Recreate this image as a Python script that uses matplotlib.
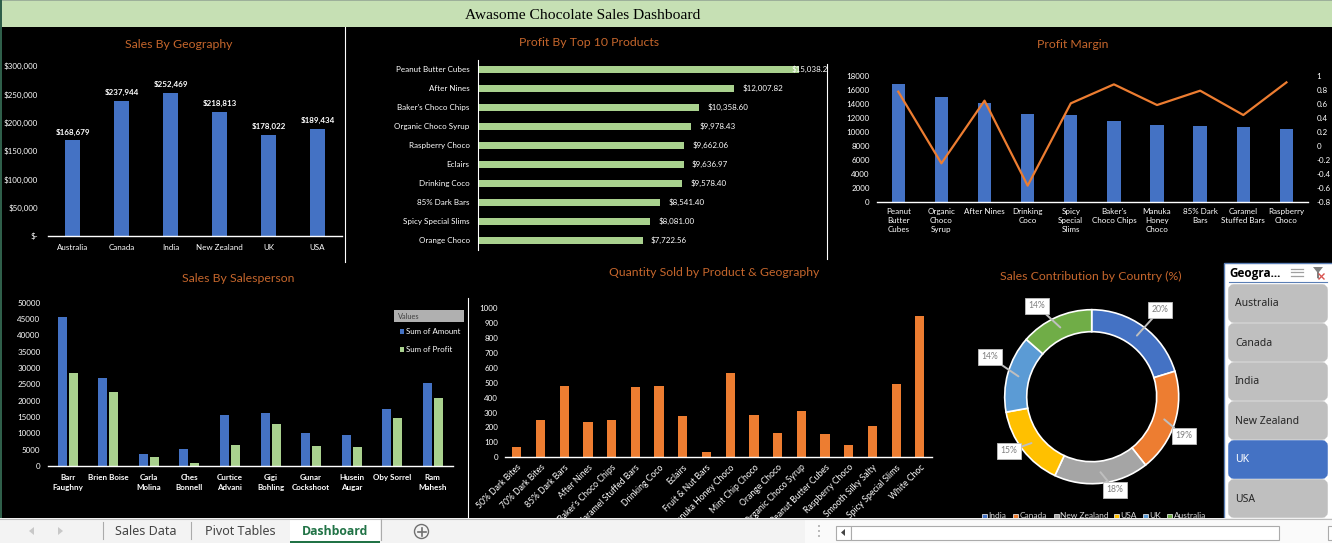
import matplotlib
matplotlib.use("Agg")
import matplotlib.pyplot as plt
from matplotlib.patches import Rectangle, FancyBboxPatch, Circle, Polygon
import numpy as np

W, H = 1332, 543

# sales by geography
countries = ["Australia", "Canada", "India", "New Zealand", "UK", "USA"]
country_sales = [168679, 237944, 252469, 218813, 178022, 189434]

# top 10 products by profit
top_products = ["Peanut Butter Cubes", "After Nines", "Baker's Choco Chips", "Organic Choco Syrup",
                "Raspberry Choco", "Eclairs", "Drinking Coco", "85% Dark Bars",
                "Spicy Special Slims", "Orange Choco"]
top_profit = [15038.20, 12007.82, 10358.60, 9978.43, 9662.06, 9636.97, 9578.40, 8541.40, 8081.00, 7722.56]

# profit margin
margin_products = ["Peanut\nButter\nCubes", "Organic\nChoco\nSyrup", "After Nines", "Drinking\nCoco",
                   "Spicy\nSpecial\nSlims", "Baker's\nChoco Chips", "Manuka\nHoney\nChoco", "85% Dark\nBars",
                   "Caramel\nStuffed Bars", "Raspberry\nChoco"]
margin_bars = [16816, 14968, 14116, 12552, 12410, 11558, 10989, 10847, 10705, 10421]
margin_line = [0.773, -0.246, 0.645, -0.563, 0.607, 0.877, 0.583, 0.787, 0.441, 0.905]
margin_right_ticks = [1, 0.8, 0.6, 0.4, 0.2, 0, -0.2, -0.4, -0.6, -0.8]

# salesperson
people = ["Barr\nFaughny", "Brien Boise", "Carla\nMolina", "Ches\nBonnell", "Curtice\nAdvani",
          "Gigi\nBohling", "Gunar\nCockshoot", "Husein\nAugar", "Oby Sorrel", "Ram\nMahesh"]
people_amount = [45612, 26939, 3673, 5204, 15612, 16224, 10102, 9490, 17449, 25408]
people_profit = [28469, 22653, 2755, 918, 6428, 12857, 6122, 5816, 14694, 20816]

# quantity sold
qty_products = ["50% Dark Bites", "70% Dark Bites", "85% Dark Bars", "After Nines", "Baker's Choco Chips",
                "Caramel Stuffed Bars", "Drinking Coco", "Eclairs", "Fruit & Nut Bars", "Manuka Honey Choco",
                "Mint Chip Choco", "Orange Choco", "Organic Choco Syrup", "Peanut Butter Cubes",
                "Raspberry Choco", "Smooth Silky Salty", "Spicy Special Slims", "White Choc"]
qty_values = [69, 250, 478, 237, 250, 471, 478, 277, 36, 565, 283, 163, 310, 156, 83, 210, 491, 946]

# donut
donut_names = ["India", "Canada", "New Zealand", "USA", "UK", "Australia"]
donut_sales = [252469, 237944, 218813, 189434, 178022, 168679]
donut_labels = ["20%", "19%", "18%", "15%", "14%", "14%"]

slicer_items = ["Australia", "Canada", "India", "New Zealand", "UK", "USA"]
slicer_selected = "UK"

BLUE = "#4472C4"
GREEN = "#A9D18E"
ORANGE = "#ED7D31"
TITLE = "#C5662C"
donut_colors = [BLUE, ORANGE, "#A5A5A5", "#FFC000", "#5B9BD5", "#70AD47"]

plt.rcParams["font.family"] = ["Lato", "DejaVu Sans"]
plt.rcParams["font.size"] = 5.8
plt.rcParams["text.color"] = "white"
plt.rcParams["xtick.color"] = "white"
plt.rcParams["ytick.color"] = "white"

fig = plt.figure(figsize=(W / 100, H / 100), dpi=100, facecolor="black")


def px_axes(left, top, right, bottom, **kw):
    a = fig.add_axes([left / W, 1 - bottom / H, (right - left) / W, (bottom - top) / H], **kw)
    a.set_facecolor("none")
    for s in a.spines.values():
        s.set_visible(False)
    a.tick_params(length=0)
    return a


def base_line(a):
    a.spines["bottom"].set_visible(True)
    a.spines["bottom"].set_color("white")
    a.spines["bottom"].set_linewidth(1)


# page furniture behind the charts
back = px_axes(0, 0, W, H, zorder=0)
back.set_xlim(0, W)
back.set_ylim(H, 0)
back.axis("off")
back.add_patch(Rectangle((2, 1), W, 26, color="#C6E0B4", lw=0))
back.add_patch(Rectangle((0, 0), W, 1, color="#9DB09A", lw=0))
back.add_patch(Rectangle((0, 0), 2, 518, color="#2F5F4A", lw=0))
back.text(582.5, 15.5, "Awasome Chocolate Sales Dashboard", color="black", family="Liberation Serif",
          fontsize=11.15, ha="center", va="center")
for x0, y0, y1 in [(344.5, 27, 262), (827, 64, 259), (467.5, 298, 518)]:
    back.plot([x0, x0], [y0, y1], color="white", lw=0.8)
for txt, cx, cy in [("Sales By Geography", 179, 44), ("Profit By Top 10 Products", 589, 42),
                    ("Profit Margin", 1073, 45), ("Sales By Salesperson", 238, 279),
                    ("Quantity Sold by Product & Geography", 714, 272),
                    ("Sales Contribution by Country (%)", 1091, 276)]:
    back.text(cx, cy, txt, color=TITLE, fontsize=8.8, ha="center", va="center")

# Sales by geography
ax = px_axes(48, 66, 342, 236, zorder=1)
x = np.arange(len(countries))
bars = ax.bar(x, country_sales, width=0.31, color=BLUE)
ax.set_xlim(-0.5, 5.5)
ax.set_ylim(0, 300000)
ax.set_xticks(x, countries)
ticks = np.arange(0, 300001, 50000)
ax.set_yticks(ticks, ["$-"] + [f"${t:,}" for t in ticks[1:]])
ax.tick_params(axis="y", pad=7)
ax.tick_params(axis="x", pad=6)
base_line(ax)
for b, v in zip(bars, country_sales):
    ax.annotate(f"${v:,}", (b.get_x() + b.get_width() / 2, v), xytext=(0, 3.5), textcoords="offset points",
                ha="center", va="bottom", fontweight="bold")

# Profit by top 10
ax = px_axes(478, 59.8, 827, 249.8, zorder=1)
y = np.arange(len(top_products))
ax.barh(y, top_profit, height=0.37, color=GREEN)
ax.set_xlim(0, 16362)
ax.set_ylim(9.5, -0.5)
ax.set_yticks(y, top_products)
ax.set_xticks([])
ax.tick_params(axis="y", pad=6)
ax.spines["left"].set_visible(True)
ax.spines["left"].set_color("white")
for i, v in enumerate(top_profit):
    if i == 0:
        # sits over the bar end in the original, last digit cut off
        ax.annotate(f"${v:,.1f}", (v, i), xytext=(-5, 0), textcoords="offset points", va="center", zorder=5)
    else:
        ax.annotate(f"${v:,.2f}", (v, i), xytext=(6, 0), textcoords="offset points", va="center")

# Profit margin
ax = px_axes(876.7, 75.7, 1308, 202.3, zorder=1)
x = np.arange(len(margin_products))
ax.bar(x, margin_bars, width=0.31, color=BLUE)
ax.set_xlim(-0.5, 9.5)
ax.set_ylim(0, 18000)
ax.set_yticks(np.arange(0, 18001, 2000))
ax.set_xticks(x, margin_products, linespacing=1.35)
ax.tick_params(axis="y", pad=5)
ax.tick_params(axis="x", pad=4)
base_line(ax)
ax2 = ax.twinx()
ax2.set_facecolor("none")
for s in ax2.spines.values():
    s.set_visible(False)
ax2.plot(x, margin_line, color=ORANGE, lw=1.6)
ax2.set_ylim(-0.8, 1)
ax2.set_yticks(margin_right_ticks, [f"{t:g}" for t in margin_right_ticks])
ax2.tick_params(length=0, pad=6)

# Sales by salesperson
ax = px_axes(47.5, 302.7, 453, 466, zorder=1)
x = np.arange(len(people))
ax.bar(x - 0.136, people_amount, width=0.222, color=BLUE)
ax.bar(x + 0.136, people_profit, width=0.222, color=GREEN)
ax.set_xlim(-0.5, 9.5)
ax.set_ylim(0, 50000)
ax.set_yticks(np.arange(0, 50001, 5000))
ax.set_xticks(x, people, linespacing=1.4, fontweight="bold")
ax.tick_params(axis="y", pad=5)
ax.tick_params(axis="x", pad=6)
base_line(ax)
back.add_patch(Rectangle((394, 310), 70, 12, color="#B0B0B0", lw=0))
back.text(398, 316.5, "Values", color="#404040", fontsize=5.3, va="center")
back.add_patch(Rectangle((399.5, 329), 4.5, 4.5, color=BLUE, lw=0))
back.text(406, 331.5, "Sum of Amount", fontsize=5.7, va="center")
back.add_patch(Rectangle((399.5, 347), 4.5, 4.5, color=GREEN, lw=0))
back.text(406, 349.5, "Sum of Profit", fontsize=5.7, va="center")

# Quantity sold
ax = px_axes(505, 308, 931.7, 457.3, zorder=1)
x = np.arange(len(qty_products))
ax.bar(x, qty_values, width=0.39, color=ORANGE)
ax.set_xlim(-0.5, 17.5)
ax.set_ylim(0, 1000)
ax.set_yticks(np.arange(0, 1001, 100))
ax.set_xticks(x, qty_products, rotation=45, ha="right", rotation_mode="anchor", fontsize=6.2)
ax.tick_params(axis="y", pad=5)
ax.tick_params(axis="x", pad=4)
base_line(ax)

# Donut
cx, cy, outer = 1091.7, 396.7, 87
ax = px_axes(cx - 110, cy - 110, cx + 110, cy + 110, zorder=1)
ax.set_xlim(-110, 110)
ax.set_ylim(-110, 110)
wedges, _ = ax.pie(donut_sales, colors=donut_colors, radius=outer, startangle=90, counterclock=False,
                   wedgeprops=dict(width=22, edgecolor="white", linewidth=1.2))
ax.set_xlim(-110, 110)
ax.set_ylim(-110, 110)
label_px = [(1160, 310), (1184, 436), (1115, 490), (1009, 451), (990, 357), (1037, 306)]
for w, lab, (lx, ly) in zip(wedges, donut_labels, label_px):
    ang = np.deg2rad((w.theta1 + w.theta2) / 2)
    mx, my = 76 * np.cos(ang), 76 * np.sin(ang)
    ax.annotate(lab, (mx, my), xytext=(lx - cx, cy - ly), textcoords="data", color="#7F7F7F", fontsize=6.2,
                ha="center", va="center", annotation_clip=False,
                bbox=dict(boxstyle="square,pad=0.4", fc="white", ec="#BFBFBF", lw=0.6),
                arrowprops=dict(arrowstyle="-", color="#BFBFBF", lw=1.4, shrinkA=0, shrinkB=0))

legend_x = [982, 1013, 1054, 1114, 1143, 1167]
for name, col, lx in zip(donut_names, donut_colors, legend_x):
    back.add_patch(Rectangle((lx, 514), 4.5, 4.5, fc=col, ec="white", lw=0.5))
    back.text(lx + 6.5, 516, name, color="#D9D9D9", fontsize=6, va="center")

# slicer and sheet tabs go on top, they cover the chart edges
top = px_axes(0, 0, W, H, zorder=5)
top.set_xlim(0, W)
top.set_ylim(H, 0)
top.axis("off")
top.add_patch(Rectangle((1223.5, 262.5), 110, 256, fc="white", ec="#5B7FB5", lw=1))
top.text(1229, 273, "Geogra...", color="black", fontsize=8.5, fontweight="bold", family="Open Sans", va="center")
top.plot([1229, 1327], [282, 282], color="#5B7FB5", lw=0.8)
for k in range(3):
    top.plot([1295, 1303], [268.5 + k * 3.5] * 2, color="#A0A0A0", lw=0.9)
    top.plot([1291, 1293.5], [268.5 + k * 3.5] * 2, color="#A0A0A0", lw=0.9)
top.add_patch(Polygon([(1313, 267), (1323, 267), (1319, 272), (1319, 279), (1317, 278), (1317, 272)], color="#7F7F7F", lw=0))
top.plot([1319, 1324], [274, 279], color="#D9534F", lw=1)
top.plot([1324, 1319], [274, 279], color="#D9534F", lw=1)
for i, name in enumerate(slicer_items):
    y0 = 285 + i * 39
    on = name == slicer_selected
    top.add_patch(FancyBboxPatch((1231, y0 + 2), 94, 33, boxstyle="round,pad=0,rounding_size=3",
                                 fc=BLUE if on else "#BFBFBF", ec=BLUE if on else "#BFBFBF", lw=4))
    top.text(1235, y0 + 19, name, color="white" if on else "#262626", fontsize=7.5, family="Noto Sans", va="center")

top.add_patch(Rectangle((0, 518), W, 25, color="#F3F3F3", lw=0))
top.plot([0, W], [518.5, 518.5], color="#BDBDBD", lw=0.8)
top.add_patch(Rectangle((805, 519), W - 805, 24, color="#FAFAFA", lw=0))
top.add_patch(Rectangle((290, 518), 90, 25, fc="white", lw=0))
top.add_patch(Rectangle((290, 540.5), 90, 2.5, color="#217346", lw=0))
for sx in [102.5, 190.5]:
    top.plot([sx, sx], [522, 539], color="#ABABAB", lw=0.8)
top.plot([380.5, 380.5], [519, 540], color="#ABABAB", lw=0.8)
top.text(145.5, 531.5, "Sales Data", color="#444444", fontsize=9, family="Noto Sans", ha="center", va="center")
top.text(240, 531.5, "Pivot Tables", color="#444444", fontsize=9, family="Noto Sans", ha="center", va="center")
top.text(335.5, 531.5, "Dashboard", color="#217346", fontsize=8.8, fontweight="bold", family="Open Sans", ha="center", va="center")
top.add_patch(Polygon([(34, 527), (34, 535), (29, 531)], color="#C8C8C8", lw=0))
top.add_patch(Polygon([(58, 527), (58, 535), (63, 531)], color="#C8C8C8", lw=0))
top.add_patch(Circle((421.5, 531.5), 7, fc="none", ec="#707070", lw=1))
top.plot([417.5, 425.5], [531.5, 531.5], color="#707070", lw=1.2)
top.plot([421.5, 421.5], [527.5, 535.5], color="#707070", lw=1.2)
for dy in [525, 530, 535]:
    top.add_patch(Rectangle((818, dy), 2, 2, color="#BBBBBB", lw=0))
top.add_patch(Rectangle((835.5, 525.5), 15, 14, fc="white", ec="#ABABAB", lw=0.8))
top.add_patch(Polygon([(845, 529), (845, 536), (841, 532.5)], color="#444444", lw=0))
top.add_patch(Rectangle((850.5, 525.5), 428, 14, fc="white", ec="#ABABAB", lw=0.8))
top.add_patch(Rectangle((1327.5, 525.5), 10, 14, fc="white", ec="#ABABAB", lw=0.8))

fig.savefig("out.png", dpi=100, facecolor="black")
